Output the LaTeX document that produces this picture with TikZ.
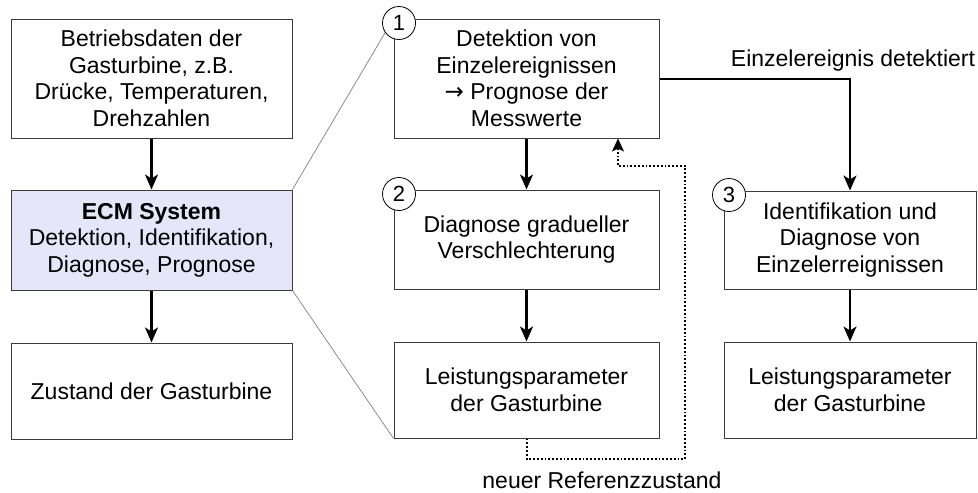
\documentclass[tikz,border=0pt]{standalone}
\usepackage{fontspec}
\setmainfont{Liberation Sans}
\newfontfamily\arrowfont{DejaVu Sans}
\usetikzlibrary{arrows.meta}
\definecolor{ecmfill}{RGB}{230,230,250}
\definecolor{boxline}{RGB}{60,60,60}
\begin{document}
\begin{tikzpicture}[x=1pt,y=-1pt,
  every node/.style={font=\fontsize{23}{26.5}\selectfont, inner sep=0pt, align=center},
  box/.style={draw=boxline, line width=1pt, fill=white},
  num/.style={draw=black, line width=0.8pt, fill=white, circle, minimum size=33pt, font=\fontsize{22}{24}\selectfont},
  arr/.style={line width=2.2pt, -{Stealth[length=15pt,width=13pt,inset=4pt]}},
  zoomline/.style={draw=gray, line width=0.7pt},
  fb/.style={line width=1.8pt, dotted, -{Stealth[length=13pt,width=12pt,inset=3pt]}}
]
\useasboundingbox (0,0) rectangle (978,493);
% left column
\node[box, minimum width=281pt, minimum height=119pt] (betr) at (151.5,78.5)
  {Betriebsdaten der\\Gasturbine, z.B.\\Drücke, Temperaturen,\\Drehzahlen};
\node[box, fill=ecmfill, minimum width=281pt, minimum height=100pt] (ecm) at (151.5,240)
  {\textbf{ECM System}\\Detektion, Identifikation,\\Diagnose, Prognose};
\node[box, minimum width=281pt, minimum height=96pt] (zust) at (151.5,391)
  {Zustand der Gasturbine};
% middle column
\node[box, minimum width=265pt, minimum height=119pt] (det) at (526.5,78.5)
  {Detektion von\\Einzelereignissen\\{\arrowfont →} Prognose der\\Messwerte};
\node[box, minimum width=265pt, minimum height=99pt] (diag) at (526.5,239.5)
  {Diagnose gradueller\\Verschlechterung};
\node[box, minimum width=265pt, minimum height=96pt] (leist1) at (526.5,390)
  {Leistungsparameter\\der Gasturbine};
% right column
\node[box, minimum width=252pt, minimum height=98pt] (ident) at (850,240)
  {Identifikation und\\Diagnose von\\Einzelerreignissen};
\node[box, minimum width=252pt, minimum height=96pt] (leist2) at (850,390)
  {Leistungsparameter\\der Gasturbine};
% zoom lines
\draw[zoomline] (ecm.north east) -- (det.north west);
\draw[zoomline] (ecm.south east) -- (leist1.south west);
% numbers
\node[num] (n1) at (399,23) {1};
\node[num] (n2) at (399,194) {2};
\node[num] (n3) at (729,195) {3};
% arrows
\draw[arr] (betr) -- (ecm);
\draw[arr] (ecm) -- (zust);
\draw[arr] (det) -- (diag);
\draw[arr] (diag) -- (leist1);
\draw[arr] (ident) -- (leist2);
\coordinate (c1) at (850,79);
\draw[arr] (det.east |- c1) -- (c1) -- (ident.north);
\node (lab1) at (853,61) {Einzelereignis detektiert};
% feedback
\coordinate (f1) at (527,459);
\coordinate (f2) at (685,459);
\coordinate (f3) at (685,166);
\coordinate (f4) at (618,166);
\draw[fb] (leist1.south -| f1) -- (f1) -- (f2) -- (f3) -- (f4) -- (f4 |- det.south);
\node (lab2) at (602,480) {neuer Referenzzustand};
\end{tikzpicture}
\end{document}
